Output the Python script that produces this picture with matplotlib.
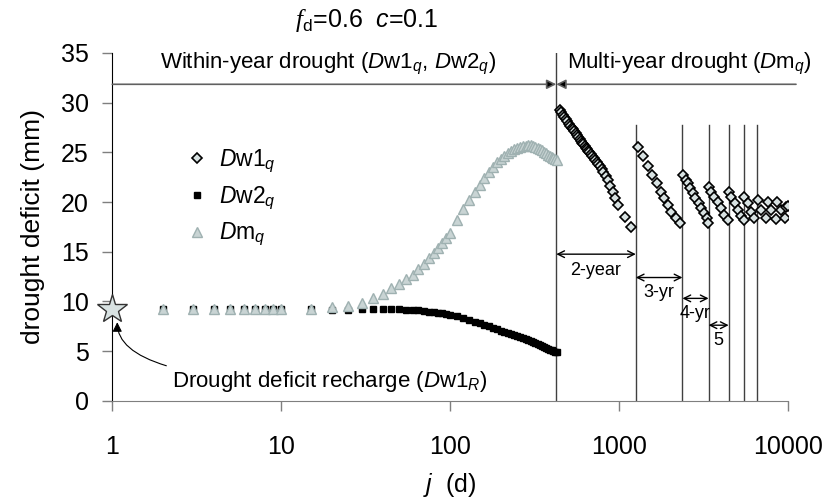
import matplotlib
matplotlib.use("Agg")
import matplotlib.pyplot as plt

plt.rcParams['font.family'] = ['Liberation Sans', 'DejaVu Sans']
plt.rcParams['mathtext.fontset'] = 'custom'
plt.rcParams['mathtext.rm'] = 'Liberation Sans'
plt.rcParams['mathtext.it'] = 'Liberation Sans:italic'
plt.rcParams['mathtext.cal'] = 'Liberation Serif:italic'

# within-year days and series
j_within = [2, 3, 4, 5, 6, 7, 8, 9, 10, 15, 20, 25, 30, 35, 40, 45, 50, 55, 60, 65, 70,
            75, 80, 85, 90, 95, 100, 110, 120, 130, 140, 150, 160, 170, 180, 190, 200,
            210, 220, 230, 240, 250, 260, 270, 280, 290, 300, 310, 320, 330, 340, 350,
            360, 370, 380, 390, 400, 410, 420, 430]
dw2 = [9.2, 9.2, 9.2, 9.2, 9.2, 9.2, 9.2, 9.2, 9.2, 9.2, 9.1, 9.1, 9.2, 9.2, 9.2, 9.2,
       9.2, 9.15, 9.1, 9.1, 9.0, 8.95, 8.9, 8.85, 8.8, 8.7, 8.65, 8.5, 8.3, 8.1, 7.95,
       7.8, 7.65, 7.5, 7.35, 7.2, 7.05, 6.9, 6.8, 6.7, 6.6, 6.5, 6.4, 6.3, 6.2, 6.1, 6.0,
       5.9, 5.8, 5.7, 5.6, 5.5, 5.4, 5.3, 5.25, 5.15, 5.1, 5.0, 4.95, 4.9]
dm = [9.2, 9.2, 9.2, 9.2, 9.2, 9.2, 9.2, 9.2, 9.2, 9.2, 9.4, 9.5, 9.8, 10.3, 10.7, 11.3,
      11.75, 12.25, 12.7, 13.3, 13.8, 14.4, 14.9, 15.4, 15.9, 16.4, 16.9, 18.2, 19.3,
      20.2, 21.0, 21.7, 22.4, 23.0, 23.5, 24.0, 24.3, 24.6, 24.9, 25.1, 25.3, 25.4, 25.5,
      25.6, 25.65, 25.7, 25.7, 25.65, 25.55, 25.45, 25.3, 25.2, 25.05, 24.9, 24.75, 24.6,
      24.5, 24.4, 24.3, 24.2]

# multi-year drought deficit (Dw1_q)
j_multi = [446, 456, 466, 476, 486, 496, 506, 516, 526, 536, 546, 556, 566, 576, 586,
           596, 606, 616, 626, 636, 646, 656, 666, 680, 695, 710, 725, 740, 755, 770,
           790, 810, 835, 860, 890, 920, 955, 987, 1081, 1184,
           1295, 1392, 1490, 1578, 1690, 1768, 1856, 1960, 2036, 2170, 2287,
           2393, 2506, 2560, 2655, 2741, 2843, 2973, 3074, 3215, 3319, 3365,
           3410, 3522, 3684, 3852, 4034, 4220, 4416,
           4477, 4624, 4842, 5063, 5300, 5495,
           5545, 5800, 6070, 6350,
           6640, 6960, 7450, 7620, 7980, 8540, 8610, 9140, 9660, 9780, 10000]
dw1 = [29.3, 29.05, 28.8, 28.6, 28.4, 28.15, 27.9, 27.7, 27.5, 27.3, 27.1, 26.9, 26.7,
       26.5, 26.3, 26.1, 25.95, 25.8, 25.6, 25.45, 25.3, 25.15, 25.0, 24.8, 24.6, 24.4,
       24.2, 24.0, 23.8, 23.6, 23.3, 23.0, 22.6, 22.2, 21.6, 21.0, 20.4, 19.7, 18.5, 17.5,
       25.5, 24.6, 23.6, 22.7, 21.9, 21.05, 20.4, 19.7, 19.0, 18.4, 17.9,
       22.7, 22.2, 21.9, 21.4, 20.9, 20.4, 19.9, 19.4, 18.9, 18.4, 17.9,
       21.55, 21.05, 20.5, 20.0, 19.4, 18.7, 18.2,
       21.05, 20.5, 19.9, 19.2, 18.6, 18.2,
       20.5, 19.9, 19.0, 18.4,
       20.2, 19.2, 18.4, 20.0, 19.2, 18.3, 20.0, 19.2, 18.4, 19.5, 19.6]

recharge = 9.2
j_start_multi = 426
year_lines = [1260, 2380, 3400, 4470, 5500, 6550]

fig = plt.figure(figsize=(8.26, 5), dpi=100)
ax = fig.add_axes([112.3 / 826, 1 - 400.7 / 500, 675.4 / 826, 347.7 / 500])

ax.plot(j_multi, dw1, 'D', ms=5.2, mfc='#d8e2e2', mec='black', mew=1.2, ls='none',
        label=r'$D$w1$_q$', zorder=3)
ax.plot(j_within, dw2, 's', ms=5, mfc='black', mec='black', ls='none',
        label=r'$D$w2$_q$', zorder=3)
ax.plot(j_within, dm, '^', ms=7.5, mfc='#c9d4d4', mec='#9fb1b1', mew=1, ls='none',
        label=r'$D$m$_q$', zorder=4)
ax.plot([1], [recharge], '*', ms=22, mfc='#d8e2e2', mec='#333333', mew=1,
        clip_on=False, zorder=5)

ax.set_xscale('log')
ax.set_xlim(1, 10000)
ax.set_ylim(0, 35)
ax.set_xticks([1, 10, 100, 1000, 10000])
ax.set_xticklabels(['1', '10', '100', '1000', '10000'])
ax.xaxis.set_minor_locator(matplotlib.ticker.NullLocator())
ax.set_yticks(range(0, 36, 5))
ax.tick_params(labelsize=18, length=7, width=1, color='#7f7f7f', direction='out')
ax.tick_params(axis='x', pad=18)
ax.tick_params(axis='y', pad=10)
for s in ['top', 'right']:
    ax.spines[s].set_visible(False)
ax.spines['left'].set_color('black')
ax.spines['bottom'].set_color('#7f7f7f')

ax.set_ylabel('drought deficit (mm)', fontsize=19, labelpad=11)
ax.set_xlabel(r'$j$  (d)', fontsize=18, labelpad=8)

# year boundaries
ax.plot([j_start_multi, j_start_multi], [0, 35], color='#404040', lw=1, zorder=2)
for xl in year_lines:
    ax.plot([xl, xl], [0, 27.8], color='#404040', lw=1, zorder=2)

# top arrows
for xt in [1, 11200]:
    ax.annotate('', xy=(j_start_multi, 31.85), xytext=(xt, 31.85), annotation_clip=False,
                arrowprops=dict(arrowstyle='-|>', color='#606060', fc='black', lw=1.2,
                                mutation_scale=14, shrinkA=0, shrinkB=0))
ax.text(19, 33.9, r'Within-year drought ($D$w1$_q$, $D$w2$_q$)', fontsize=16,
        ha='center', va='center')
ax.text(490, 33.9, r'Multi-year drought ($D$m$_q$)', fontsize=16,
        ha='left', va='center')

# duration arrows
spans = [(j_start_multi, 1260, 14.75, '2-year', 13.1),
         (1260, 2380, 12.4, '3-yr', 10.9),
         (2380, 3400, 10.3, '4-yr', 8.8),
         (3400, 4470, 7.6, '5', 6.1)]
for a, b, y, lab, ty in spans:
    ax.annotate('', xy=(b, y), xytext=(a, y),
                arrowprops=dict(arrowstyle='<->', color='black', lw=1,
                                mutation_scale=12, shrinkA=0, shrinkB=0))
    ax.text((a * b) ** 0.5, ty, lab, fontsize=13, ha='center', va='center')

ax.annotate(r'Drought deficit recharge ($D$w1$_R$)', xy=(1.07, 7.9), xytext=(2.25, 1.9),
            fontsize=16, ha='left', va='center', annotation_clip=False,
            arrowprops=dict(arrowstyle='-|>', color='black', lw=0.8, mutation_scale=14,
                            shrinkA=2, shrinkB=0,
                            connectionstyle='angle3,angleA=0,angleB=90'))

leg = ax.legend(loc='upper left', bbox_to_anchor=(0.095, 0.76), frameon=False,
                fontsize=16.5, handlelength=0.8, handletextpad=0.55, labelspacing=0.4,
                borderpad=0)

fig.text(295 / 826, 1 - 20 / 500, r'$\mathcal{f}_{\rm d}$=0.6  $c$=0.1', fontsize=18,
         ha='left', va='center')

fig.savefig('out.png', dpi=100)
